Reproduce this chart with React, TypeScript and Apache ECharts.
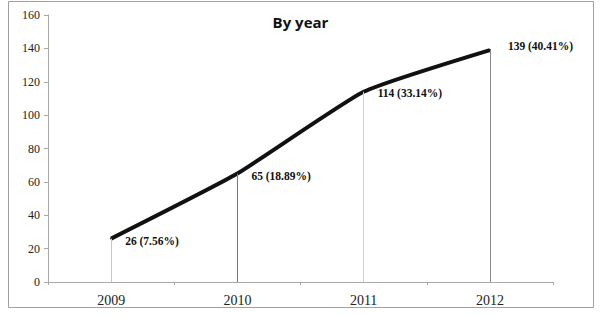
import React, { useEffect, useRef } from "react";
import * as echarts from "echarts";

const categories = ["2009", "2010", "2011", "2012"];
const counts = [26, 65, 114, 139];
const shares = ["7.56%", "18.89%", "33.14%", "40.41%"];
const yTicks = [0, 20, 40, 60, 80, 100, 120, 140, 160];
const dropColors = ["#c8c8c8", "#7a7a7a", "#d0d0d0", "#8a8a8a"];
const labelOffsets = [[0, 2], [0, 2], [0, 1], [4, -4]];

export default function App() {
  const ref = useRef<HTMLDivElement>(null);
  useEffect(() => {
    if (!ref.current) return;
    const chart = echarts.init(ref.current, null, { renderer: "svg" });
    const serif = "Liberation Serif";
    chart.setOption({
      animation: false,
      backgroundColor: "#ffffff",
      title: {
        text: "By year",
        left: "center",
        top: 9,
        textStyle: {
          fontFamily: "Open Sans",
          fontWeight: "bold",
          fontSize: 15,
          color: "#111",
        },
      },
      graphic: [
        {
          type: "rect",
          shape: { x: 8.5, y: 1.5, width: 585, height: 306 },
          style: { fill: "none", stroke: "#a0a0a0", lineWidth: 1 },
          silent: true,
        },
      ],
      grid: { left: 48, right: 48, top: 15, bottom: 34, containLabel: false },
      xAxis: {
        type: "category",
        data: categories,
        boundaryGap: true,
        axisLine: { lineStyle: { color: "#a8a8a8", width: 1 } },
        axisTick: { show: true, length: 3, lineStyle: { color: "#a8a8a8" } },
        axisLabel: {
          fontFamily: serif,
          fontSize: 14,
          color: "#222",
          margin: 11,
        },
        splitLine: { show: false },
      },
      yAxis: {
        type: "value",
        min: yTicks[0],
        max: yTicks[yTicks.length - 1],
        interval: 20,
        axisLine: { show: true, lineStyle: { color: "#a8a8a8", width: 1 } },
        axisTick: { show: true, length: 4, lineStyle: { color: "#a8a8a8" } },
        axisLabel: {
          fontFamily: serif,
          fontSize: 12,
          color: "#222",
          margin: 8,
        },
        splitLine: { show: false },
      },
      series: [
        {
          type: "line",
          data: counts.map((v, i) => ({ value: v, label: { offset: labelOffsets[i] } })),
          smooth: 0.15,
          symbol: "circle",
          symbolSize: 2,
          showSymbol: true,
          itemStyle: { color: "#111" },
          lineStyle: { color: "#111", width: 4 },
          label: {
            show: true,
            position: "right",
            distance: 13,
            fontFamily: serif,
            fontWeight: "bold",
            fontSize: 11.5,
            color: "#111",
            formatter: (p: any) => `${counts[p.dataIndex]} (${shares[p.dataIndex]})`,
          },
          markLine: {
            silent: true,
            symbol: ["none", "none"],
            label: { show: false },
            data: counts.map((v, i) => [
              { coord: [i, 0], lineStyle: { color: dropColors[i], width: 1, type: "solid" } },
              { coord: [i, v] },
            ]),
          },
          z: 3,
        },
      ],
    });
    return () => chart.dispose();
  }, []);
  return (
    <div
      ref={ref}
      style={{ position: "fixed", left: 0, top: 0, width: 601, height: 316 }}
    />
  );
}
